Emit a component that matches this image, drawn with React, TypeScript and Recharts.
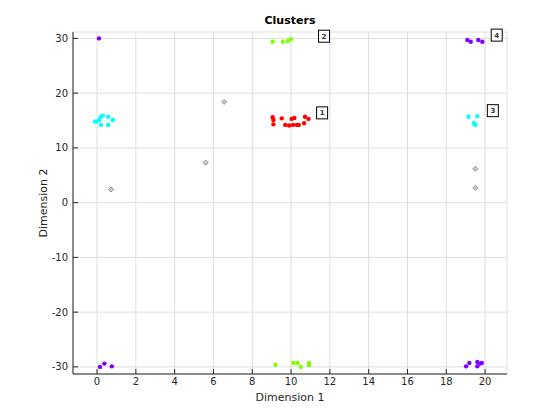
import { ScatterChart, Scatter, XAxis, YAxis, CartesianGrid } from 'recharts';

const cluster1 = [
  { x: 9.05, y: 15.6 }, { x: 9.09, y: 15.1 }, { x: 9.09, y: 14.3 }, { x: 9.52, y: 15.4 },
  { x: 9.7, y: 14.2 }, { x: 10.03, y: 15.3 }, { x: 10.17, y: 15.45 }, { x: 10.1, y: 14.2 },
  { x: 10.3, y: 14.2 }, { x: 10.4, y: 14.2 }, { x: 10.72, y: 15.7 }, { x: 10.9, y: 15.3 },
  { x: 10.67, y: 14.5 }, { x: 9.9, y: 14.1 },
];
const cluster2 = [
  { x: 9.05, y: 29.4 }, { x: 9.57, y: 29.4 }, { x: 9.83, y: 29.5 }, { x: 10.0, y: 29.85 },
  { x: 9.2, y: -29.6 }, { x: 10.12, y: -29.3 }, { x: 10.33, y: -29.3 }, { x: 10.5, y: -30.0 },
  { x: 10.93, y: -29.3 }, { x: 10.93, y: -29.7 },
];
const cluster3 = [
  { x: -0.05, y: 14.8 }, { x: 0.1, y: 15.1 }, { x: 0.2, y: 15.7 }, { x: 0.3, y: 15.9 },
  { x: 0.57, y: 15.7 }, { x: 0.82, y: 15.1 }, { x: 0.57, y: 14.2 }, { x: 0.2, y: 14.2 },
  { x: -0.1, y: 14.8 },
  { x: 19.14, y: 15.7 }, { x: 19.6, y: 15.8 }, { x: 19.43, y: 14.5 }, { x: 19.5, y: 14.2 },
];
const cluster4 = [
  { x: 0.1, y: 30 },
  { x: 19.09, y: 29.7 }, { x: 19.26, y: 29.4 }, { x: 19.65, y: 29.7 }, { x: 19.86, y: 29.4 },
  { x: 0.15, y: -30.0 }, { x: 0.38, y: -29.4 }, { x: 0.76, y: -29.9 },
  { x: 19.02, y: -29.9 }, { x: 19.19, y: -29.3 }, { x: 19.6, y: -29.1 }, { x: 19.6, y: -29.9 },
  { x: 19.83, y: -29.3 }, { x: 19.74, y: -29.4 },
];
const noise = [
  { x: 6.55, y: 18.4 }, { x: 5.6, y: 7.3 }, { x: 0.72, y: 2.4 }, { x: 19.5, y: 6.2 }, { x: 19.5, y: 2.7 },
];
const clusterLabels = [
  { x: 11.6, y: 16.4, label: '1' },
  { x: 11.7, y: 30.4, label: '2' },
  { x: 20.4, y: 16.8, label: '3' },
  { x: 20.6, y: 30.6, label: '4' },
];
const xTicks = [0, 2, 4, 6, 8, 10, 12, 14, 16, 18, 20];
const yTicks = [-30, -20, -10, 0, 10, 20, 30];

const FONT = '"DejaVu Sans", sans-serif';

const Dot = (color: string) => (props: any) => (
  <circle cx={props.cx} cy={props.cy} r={2.2} fill={color} />
);

const Diamond = (props: any) => {
  const { cx, cy } = props;
  return (
    <polygon
      points={`${cx},${cy - 2.5} ${cx + 2.5},${cy} ${cx},${cy + 2.5} ${cx - 2.5},${cy}`}
      fill="#d0d0d0"
      stroke="#8c8c8c"
      strokeWidth={1}
    />
  );
};

const LabelBox = (props: any) => {
  const { cx, cy, payload } = props;
  return (
    <g>
      <rect x={cx - 5.5} y={cy - 6} width={11} height={12} fill="#fff" stroke="#000" strokeWidth={1} />
      <text x={cx} y={cy + 2.5} textAnchor="middle" fontSize={7} fontWeight="bold" fontFamily={FONT} fill="#333">
        {payload.label}
      </text>
    </g>
  );
};

export default function App() {
  return (
    <div style={{ position: 'absolute', left: 0, top: 0, width: 560, height: 420, background: '#fff', fontFamily: FONT }}>
      <ScatterChart width={560} height={420} margin={{ top: 32, right: 53, bottom: 0, left: 0 }}>
        <CartesianGrid stroke="#dedede" strokeWidth={1} />
        <XAxis
          type="number"
          dataKey="x"
          domain={[-1.24, 21.13]}
          ticks={xTicks}
          height={46}
          tickSize={-5}
          tickMargin={9}
          stroke="#262626"
          tick={{ fontSize: 10, fill: '#262626', fontFamily: FONT }}
        />
        <YAxis
          type="number"
          dataKey="y"
          domain={[-31.3, 31.17]}
          ticks={yTicks}
          width={73}
          tickSize={-5}
          tickMargin={10}
          stroke="#262626"
          tick={{ fontSize: 10, fill: '#262626', fontFamily: FONT }}
        />
        <Scatter data={noise} shape={Diamond} isAnimationActive={false} />
        <Scatter data={cluster1} shape={Dot('#ff0000')} isAnimationActive={false} />
        <Scatter data={cluster2} shape={Dot('#80ff00')} isAnimationActive={false} />
        <Scatter data={cluster3} shape={Dot('#00ffff')} isAnimationActive={false} />
        <Scatter data={cluster4} shape={Dot('#8000ff')} isAnimationActive={false} />
        <Scatter data={clusterLabels} shape={LabelBox} isAnimationActive={false} />
      </ScatterChart>
      <div style={{ position: 'absolute', left: 73, width: 434, top: 14, textAlign: 'center', fontSize: 11, fontWeight: 'bold', color: '#000' }}>
        Clusters
      </div>
      <div style={{ position: 'absolute', left: 73, width: 434, top: 391, textAlign: 'center', fontSize: 11, color: '#262626' }}>
        Dimension 1
      </div>
      <div
        style={{
          position: 'absolute',
          left: 43,
          top: 203,
          transform: 'translate(-50%, -50%) rotate(-90deg)',
          whiteSpace: 'nowrap',
          fontSize: 11,
          color: '#262626',
        }}
      >
        Dimension 2
      </div>
    </div>
  );
}
